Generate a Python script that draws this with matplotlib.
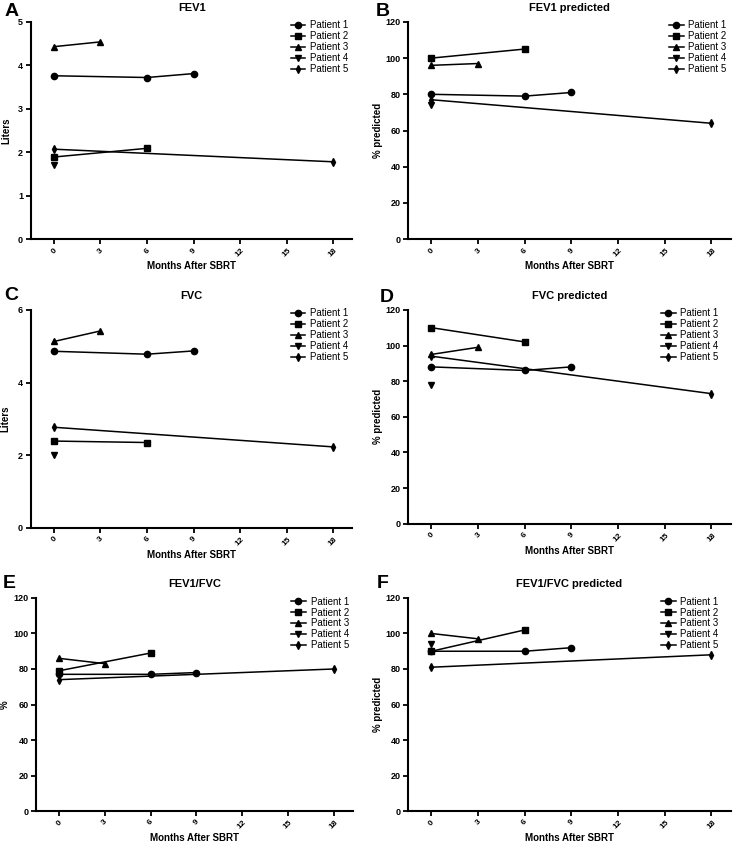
import matplotlib
matplotlib.use("Agg")
import matplotlib.pyplot as plt

plt.rcParams['font.family'] = ['Liberation Sans', 'DejaVu Sans']

patients = ["Patient 1", "Patient 2", "Patient 3", "Patient 4", "Patient 5"]
x_ticks = [0, 3, 6, 9, 12, 15, 18]

# months for each patient
p1_x = [0, 6, 9]
p2_x = [0, 6]
p3_x = [0, 3]
p4_x = [0]
p5_x = [0, 18]

fev1_p1 = [3.76, 3.72, 3.81]
fev1_p2 = [1.89, 2.09]
fev1_p3 = [4.43, 4.54]
fev1_p4 = [1.70]
fev1_p5 = [2.07, 1.78]

fev1pred_p1 = [80, 79, 81]
fev1pred_p2 = [100, 105]
fev1pred_p3 = [96, 97]
fev1pred_p4 = [74]
fev1pred_p5 = [77, 64]

fvc_p1 = [4.86, 4.78, 4.87]
fvc_p2 = [2.39, 2.35]
fvc_p3 = [5.13, 5.42]
fvc_p4 = [2.0]
fvc_p5 = [2.77, 2.23]

fvcpred_p1 = [88, 86, 88]
fvcpred_p2 = [110, 102]
fvcpred_p3 = [95, 99]
fvcpred_p4 = [78]
fvcpred_p5 = [94, 73]

ratio_p1 = [77, 77, 78]
ratio_p2 = [79, 89]
ratio_p3 = [86, 83]
ratio_p4 = [78]
ratio_p5 = [74, 80]

ratiopred_p1 = [90, 90, 92]
ratiopred_p2 = [90, 102]
ratiopred_p3 = [100, 97]
ratiopred_p4 = [94]
ratiopred_p5 = [81, 88]

xs = [p1_x, p2_x, p3_x, p4_x, p5_x]
markers = ['o', 's', '^', 'v', 'd']
msizes = [4.5, 4.5, 4.2, 4.2, 4]

W, H = 738, 842

panels = [
    dict(letter="A", title="FEV1", ylabel="Liters", ylim=5, yticks=[0, 1, 2, 3, 4, 5],
         data=[fev1_p1, fev1_p2, fev1_p3, fev1_p4, fev1_p5],
         pos=[0.0416, 0.716, 0.436, 0.258], lpos=(5, 12), ylx=11, legx=1.0),
    dict(letter="B", title="FEV1 predicted", ylabel="% predicted", ylim=120, yticks=[0, 20, 40, 60, 80, 100, 120],
         data=[fev1pred_p1, fev1pred_p2, fev1pred_p3, fev1pred_p4, fev1pred_p5],
         pos=[0.553, 0.716, 0.437, 0.258], lpos=(376, 12), ylx=383, legx=1.0),
    dict(letter="C", title="FVC", ylabel="Liters", ylim=6, yticks=[0, 2, 4, 6],
         data=[fvc_p1, fvc_p2, fvc_p3, fvc_p4, fvc_p5],
         pos=[0.0416, 0.373, 0.436, 0.259], lpos=(4, 295), ylx=10, legx=1.0),
    dict(letter="D", title="FVC predicted", ylabel="% predicted", ylim=120, yticks=[0, 20, 40, 60, 80, 100, 120],
         data=[fvcpred_p1, fvcpred_p2, fvcpred_p3, fvcpred_p4, fvcpred_p5],
         pos=[0.553, 0.378, 0.437, 0.254], lpos=(380, 297), ylx=383, legx=0.975),
    dict(letter="E", title="FEV1/FVC", ylabel="%", ylim=120, yticks=[0, 20, 40, 60, 80, 100, 120],
         data=[ratio_p1, ratio_p2, ratio_p3, ratio_p4, ratio_p5],
         pos=[0.049, 0.0368, 0.429, 0.253], lpos=(3, 584), ylx=10, legx=1.0),
    dict(letter="F", title="FEV1/FVC predicted", ylabel="% predicted", ylim=120, yticks=[0, 20, 40, 60, 80, 100, 120],
         data=[ratiopred_p1, ratiopred_p2, ratiopred_p3, ratiopred_p4, ratiopred_p5],
         pos=[0.553, 0.0368, 0.437, 0.253], lpos=(377, 583), ylx=383, legx=0.975),
]

fig = plt.figure(figsize=(W / 100, H / 100), dpi=100)

for p in panels:
    ax = fig.add_axes(p["pos"])
    for i in range(5):
        ax.plot(xs[i], p["data"][i], color='black', marker=markers[i], markersize=msizes[i],
                linewidth=1.1, label=patients[i])
    ax.set_xlim(-1.5, 19.25)
    ax.set_ylim(0, p["ylim"])
    ax.set_xticks(x_ticks)
    ax.set_xticklabels([str(t) for t in x_ticks], rotation=45, ha='center', fontsize=6, fontweight='bold')
    ax.set_yticks(p["yticks"])
    ax.set_yticklabels([str(t) for t in p["yticks"]], fontsize=6.5, fontweight='bold')
    for s in ['top', 'right']:
        ax.spines[s].set_visible(False)
    for s in ['left', 'bottom']:
        ax.spines[s].set_linewidth(1.5)
    ax.tick_params(width=1.3, length=3.5, pad=2)
    ax.set_title(p["title"], fontsize=8, fontweight='bold', pad=8)
    ax.set_xlabel("Months After SBRT", fontsize=7, fontweight='bold', labelpad=2)
    ax.set_ylabel(p["ylabel"], fontsize=7, fontweight='bold')
    x0 = p["pos"][0] * W
    wpx = p["pos"][2] * W
    ax.yaxis.set_label_coords((p["ylx"] - x0) / wpx, 0.5)
    ax.legend(loc='upper right', frameon=False, fontsize=7, handlelength=1.5, handletextpad=0.5,
              labelspacing=0.1, borderaxespad=0.0, bbox_to_anchor=(p["legx"], 1.025))
    lx, ly = p["lpos"]
    fig.text(lx / W, 1 - ly / H, p["letter"], fontsize=14, fontweight='bold',
             va='center', ha='left')

fig.savefig("out.png", dpi=100)
